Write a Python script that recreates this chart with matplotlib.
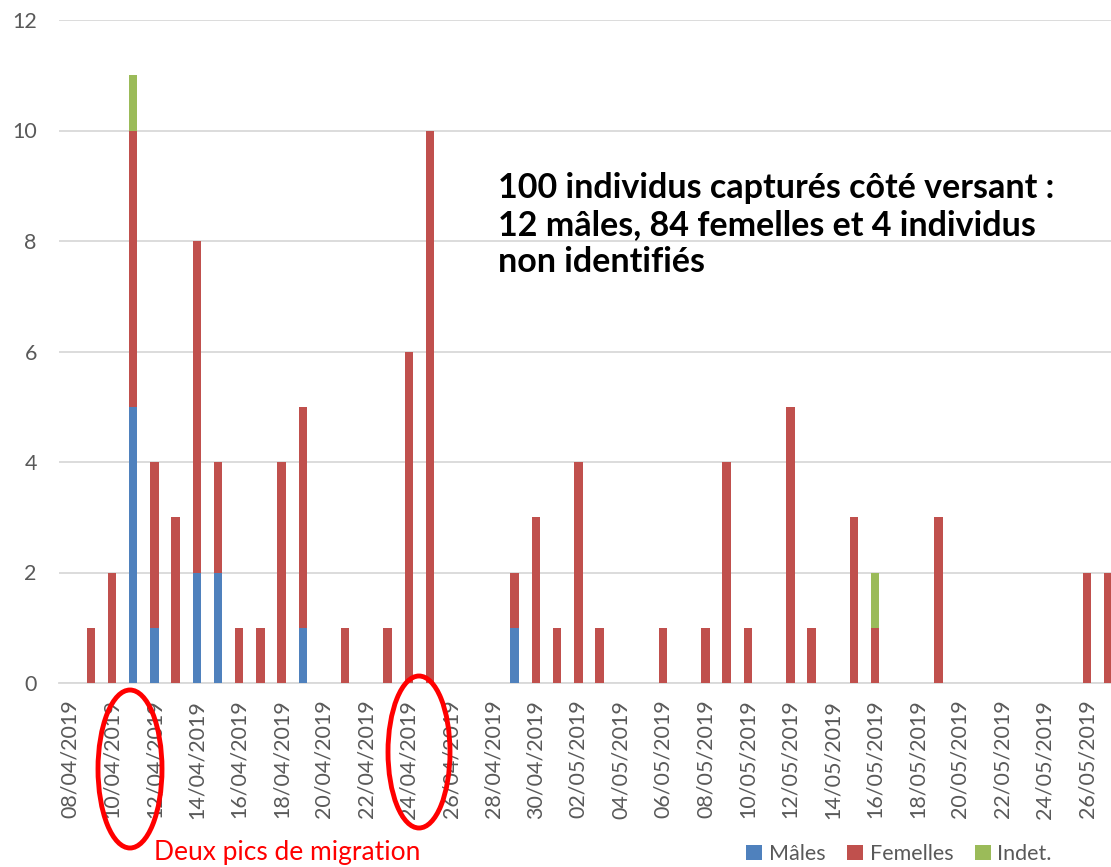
import numpy as np
import pandas as pd
import matplotlib
matplotlib.use('Agg')
import matplotlib.pyplot as plt
import matplotlib.dates as mdates
from matplotlib.patches import Ellipse

plt.rcParams['font.family'] = ['Lato', 'DejaVu Sans']

dates = ['09/04/2019', '10/04/2019', '11/04/2019', '12/04/2019', '13/04/2019',
         '14/04/2019', '15/04/2019', '16/04/2019', '17/04/2019', '18/04/2019',
         '19/04/2019', '21/04/2019', '23/04/2019', '24/04/2019', '25/04/2019',
         '29/04/2019', '30/04/2019', '01/05/2019', '02/05/2019', '03/05/2019',
         '06/05/2019', '08/05/2019', '09/05/2019', '10/05/2019', '12/05/2019',
         '13/05/2019', '15/05/2019', '16/05/2019', '19/05/2019', '26/05/2019',
         '27/05/2019']
males = [0, 0, 5, 1, 0, 2, 2, 0, 0, 0, 1, 0, 0, 0, 0,
         1, 0, 0, 0, 0, 0, 0, 0, 0, 0, 0, 0, 0, 0, 0, 0]
femelles = [1, 2, 5, 3, 3, 6, 2, 1, 1, 4, 4, 1, 1, 6, 10,
            1, 3, 1, 4, 1, 1, 1, 4, 1, 5, 1, 3, 1, 3, 2, 2]
indet = [0, 0, 1, 0, 0, 0, 0, 0, 0, 0, 0, 0, 0, 0, 0,
         0, 0, 0, 0, 0, 0, 0, 0, 0, 0, 0, 0, 1, 0, 0, 0]

x = mdates.date2num(pd.to_datetime(dates, format='%d/%m/%Y'))
males = np.array(males)
femelles = np.array(femelles)
indet = np.array(indet)

W, H = 1111, 867
fig = plt.figure(figsize=(W / 100, H / 100), dpi=100)
ax = fig.add_axes([59 / W, (H - 683) / H, 1 - 59 / W, (683 - 20) / H])

bw = 0.4
ax.bar(x, males, bw, color='#4F81BD', label='Mâles', zorder=3)
ax.bar(x, femelles, bw, bottom=males, color='#C0504D', label='Femelles', zorder=3)
ax.bar(x, indet, bw, bottom=males + femelles, color='#9BBB59', label='Indet.', zorder=3)

start = mdates.date2num(pd.Timestamp('2019-04-08'))
ax.set_xlim(start - 0.5, start + 49.13)
ax.set_ylim(0, 12)
ax.set_yticks(range(0, 13, 2))
ticks = pd.date_range('2019-04-08', '2019-05-26', freq='2D')
ax.set_xticks(mdates.date2num(ticks))
ax.set_xticklabels([t.strftime('%d/%m/%Y') for t in ticks], rotation=90)
ax.tick_params(axis='x', length=0, pad=12, labelsize=15.5, labelcolor='#595959')
ax.tick_params(axis='y', length=0, pad=16, labelsize=15.5, labelcolor='#595959')
ax.grid(axis='y', color='#d9d9d9', lw=1.3, zorder=0)
for s in ['top', 'right', 'left']:
    ax.spines[s].set_visible(False)
ax.spines['bottom'].set_color('#d9d9d9')
ax.spines['bottom'].set_linewidth(1.3)

fig.text(498 / W, 1 - 225 / H,
         '100 individus capturés côté versant :\n12 mâles, 84 femelles et 4 individus\nnon identifiés',
         fontsize=24.5, fontweight='bold', va='center', ha='left', linespacing=1.2)

# red circles around the two migration peaks
fig.patches.append(Ellipse((130 / W, 1 - 769 / H), 64 / W, 158 / H, transform=fig.transFigure,
                           fill=False, ec='#ff0000', lw=3.5))
fig.patches.append(Ellipse((419 / W, 1 - 752 / H), 62 / W, 152 / H, transform=fig.transFigure,
                           fill=False, ec='#ff0000', lw=3.5))
fig.text(287 / W, 2 / H, 'Deux pics de migration', color='#ff0000',
         fontsize=19, ha='center', va='bottom')

fig.legend(loc='center', bbox_to_anchor=(899 / W, 1 - 854 / H), ncol=3, frameon=False,
           fontsize=15.5, handlelength=0.75, handleheight=0.75, handletextpad=0.3,
           columnspacing=1.0, labelcolor='#595959')

fig.savefig('out.png', dpi=100)
